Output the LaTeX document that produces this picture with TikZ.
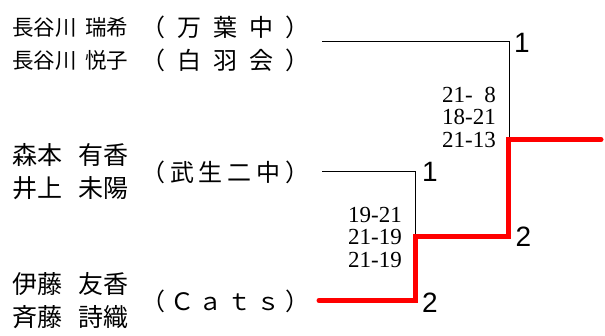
\documentclass[tikz,border=0pt]{standalone}
\usepackage{fontspec}
\setmainfont{Liberation Serif}
\newfontfamily\cjk{Noto Sans CJK JP}
\newfontfamily\rankfont{Liberation Sans}
\newcommand{\justbox}[2]{\makebox[#1][s]{#2}}

\begin{document}
\begin{tikzpicture}[x=1pt, y=-1pt]
\useasboundingbox (0,0) rectangle (605,336);

\tikzset{
  names/.style={align=left, anchor=west, inner sep=0pt, font=\cjk\fontsize{25}{33}\selectfont},
  smallnames/.style={names, font=\cjk\fontsize{21.5}{33}\selectfont},
  team/.style={align=left, anchor=west, inner sep=0pt, font=\cjk\fontsize{24}{33}\selectfont},
  scores/.style={align=right, anchor=east, inner sep=0pt, font=\fontsize{23}{22.5}\selectfont},
  rank/.style={inner sep=0pt, font=\rankfont\fontsize{28}{28}\selectfont},
  loser/.style={line width=1pt, black},
  winner/.style={line width=5pt, red, line cap=round},
}

% players and teams
\node[smallnames] (pairA) at (12, 43.5) {\justbox{116pt}{長谷川\hfill 瑞希}\\\justbox{116pt}{長谷川\hfill 悦子}};
\node[team] (teamA) at (141, 43.5) {\justbox{168pt}{（\hfill 万\hfill 葉\hfill 中\hfill ）}\\\justbox{168pt}{（\hfill 白\hfill 羽\hfill 会\hfill ）}};

\node[names] (pairB) at (12, 172) {\justbox{116pt}{森本\hfill 有香}\\\justbox{116pt}{井上\hfill 未陽}};
\node[team] (teamB) at (141, 172) {\justbox{168pt}{（\hfill 武\hfill 生\hfill 二\hfill 中\hfill ）}};

\node[names] (pairC) at (12, 301) {\justbox{116pt}{伊藤\hfill 友香}\\\justbox{116pt}{斉藤\hfill 詩織}};
\node[team] (teamC) at (141, 301) {\justbox{168pt}{（\hfill Ｃ\hfill ａ\hfill ｔ\hfill ｓ\hfill ）}};

% bracket corners
\coordinate (a1) at (322, 42);
\coordinate (a2) at (509, 42);
\coordinate (a3) at (509, 140);
\coordinate (b1) at (322, 172);
\coordinate (b2) at (415, 172);
\coordinate (b3) at (415, 236.5);
\coordinate (c1) at (319, 300.5);
\coordinate (c2) at (415, 300.5);
\coordinate (d1) at (508, 236.5);
\coordinate (d2) at (508, 139.5);
\coordinate (d3) at (601, 139.5);

\draw[loser] (a1) -- (a2) -- (a3);
\draw[loser] (b1) -- (b2) -- (b3);
\draw[winner, line join=miter] (c1) -- (c2) -- (b3) -- (d1) -- (d2) -- (d3);

% results
\node[scores] (scoreA) at (496, 117) {21-\phantom{2}8\\18-21\\21-13};
\node[scores] (scoreB) at (402, 237) {19-21\\21-19\\21-19};

\node[rank] (rankA1) at (522, 42.5) {1};
\node[rank] (rankA2) at (523.5, 237) {2};
\node[rank] (rankB1) at (430, 172) {1};
\node[rank] (rankB2) at (430, 302.5) {2};

\end{tikzpicture}
\end{document}
